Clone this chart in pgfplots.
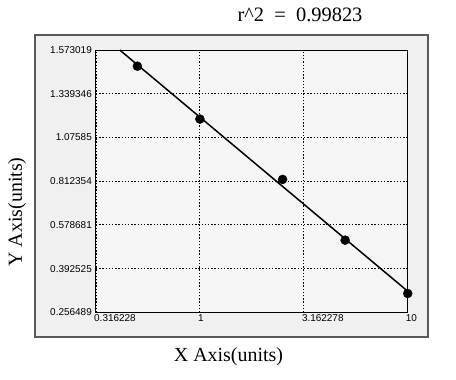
\documentclass[border=0pt]{standalone}
\usepackage{fontspec}
\setmainfont{Liberation Serif}
\setsansfont{Liberation Sans}
\usepackage{pgfplots}
\pgfplotsset{compat=1.18}
\begin{document}
\begin{tikzpicture}[x=1bp,y=1bp]
\path[use as bounding box, fill=white] (-96,-66.7) rectangle (360,312.3);
\draw[fill=gray!12, draw=black!65, line width=1.2bp] (-61,-24.7) rectangle (332,277.3);
\begin{axis}[
 at={(0,0)}, anchor=south west,
 scale only axis, width=311.7bp, height=262.3bp,
 xmode=log, xmin=0.316228, xmax=10,
 ymin=0, ymax=6,
 xtick={0.316228,1,3.162278,10},
 xticklabels={0.316228,1,3.162278,10},
 ytick={0,1,2,3,4,5,6},
 yticklabels={0.256489,0.392525,0.578681,0.812354,1.07585,1.339346,1.573019},
 major tick length=0pt,
 grid=major,
 major grid style={black, dash pattern=on 1.4bp off 1.8bp, line width=0.9bp},
 axis line style={black, line width=1bp},
 axis background/.style={fill=gray!8},
 tick label style={font=\sffamily\fontsize{10}{11}\selectfont, inner sep=0pt},
 x tick label style={anchor=north west, xshift=-2bp, yshift=-2bp},
 y tick label style={anchor=east, xshift=-4bp},
 clip=false,
]
\addplot[black, line width=1.5bp] coordinates {(0.4114,6) (10,0.482)};
\addplot[only marks, mark=*, mark size=4.5bp, black] coordinates {(0.5,5.63) (1,4.42) (2.5,3.04) (5,1.65) (10,0.43)};
\end{axis}
\node[anchor=base, font=\fontsize{20.5}{22}\selectfont] at (204,291.3) {r\textasciicircum 2\ \ =\ \ 0.99823};
\node[anchor=base, font=\fontsize{20}{22}\selectfont] at (132.5,-49.4) {X Axis(units)};
\node[anchor=base, rotate=90, font=\fontsize{20}{22}\selectfont] at (-74,100.3) {Y Axis(units)};
\end{tikzpicture}
\end{document}
